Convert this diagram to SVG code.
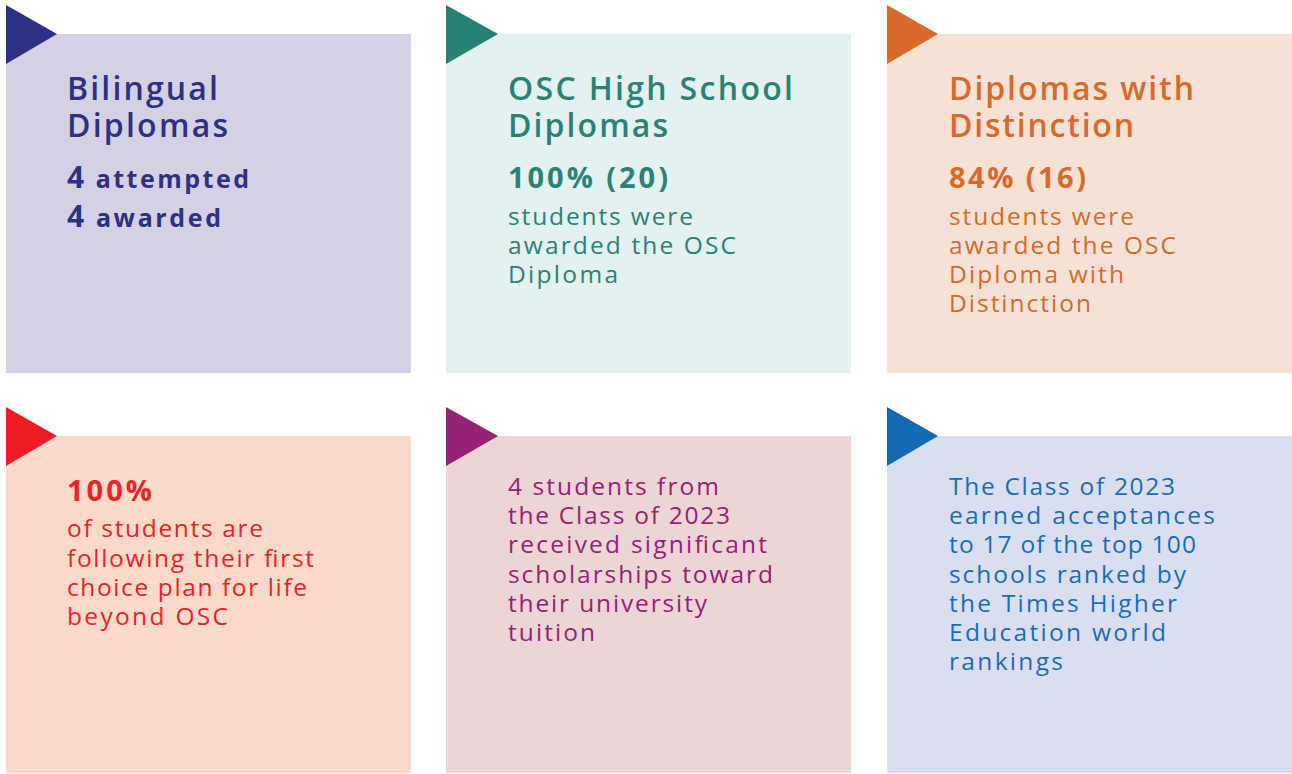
<svg xmlns="http://www.w3.org/2000/svg" width="1292" height="774" viewBox="0 0 1292 774">
<style>
text{font-family:"Open Sans","Noto Sans","Liberation Sans",sans-serif}
.t{font-size:32px;font-weight:600}
.n{font-size:29px;font-weight:700}
.b{font-size:24.5px;font-weight:400}
.s{font-size:25px;font-weight:700}
</style>
<rect width="1292" height="774" fill="#ffffff"/>
<g id="node-bilingual">
<rect x="6" y="34" width="405" height="339" fill="#d4d1e4"/>
<polygon points="6,5 57,34 6,64" fill="#2e3083"/>
<g fill="#2e3083">
<text class="t" x="67" y="100" textLength="151" lengthAdjust="spacing">Bilingual</text>
<text class="t" x="67" y="137" textLength="161" lengthAdjust="spacing">Diplomas</text>
<text class="s" x="67" y="188" textLength="182" lengthAdjust="spacing"><tspan font-size="30">4</tspan> attempted</text>
<text class="s" x="67" y="227" textLength="154" lengthAdjust="spacing"><tspan font-size="30">4</tspan> awarded</text>
</g>
</g>
<g id="node-osc">
<rect x="446" y="34" width="405" height="339" fill="#e3f1f0"/>
<polygon points="446,5 498,34 446,64" fill="#268073"/>
<g fill="#2a8275">
<text class="t" x="508" y="100" textLength="285" lengthAdjust="spacing">OSC High School</text>
<text class="t" x="508" y="137" textLength="160" lengthAdjust="spacing">Diplomas</text>
<text class="n" x="508" y="188" textLength="160" lengthAdjust="spacing">100% (20)</text>
<text class="b" x="508" y="225" textLength="185" lengthAdjust="spacing">students were</text>
<text class="b" x="508" y="254" textLength="228" lengthAdjust="spacing">awarded the OSC</text>
<text class="b" x="508" y="283" textLength="110" lengthAdjust="spacing">Diploma</text>
</g>
</g>
<g id="node-distinction">
<rect x="887" y="34" width="405" height="339" fill="#f6e2d5"/>
<polygon points="887,5 938,34 887,64" fill="#d8692b"/>
<g fill="#d66a2c">
<text class="t" x="949" y="100" textLength="245" lengthAdjust="spacing">Diplomas with</text>
<text class="t" x="949" y="137" textLength="185" lengthAdjust="spacing">Distinction</text>
<text class="n" x="949" y="188" textLength="137" lengthAdjust="spacing">84% (16)</text>
<text class="b" x="949" y="225" textLength="185" lengthAdjust="spacing">students were</text>
<text class="b" x="949" y="254" textLength="227" lengthAdjust="spacing">awarded the OSC</text>
<text class="b" x="949" y="283" textLength="175" lengthAdjust="spacing">Diploma with</text>
<text class="b" x="949" y="312" textLength="142" lengthAdjust="spacing">Distinction</text>
</g>
</g>
<g id="node-firstchoice">
<rect x="6" y="436" width="405" height="337" fill="#fcdacb"/>
<polygon points="6,407 57,436 6,466" fill="#ee1c25"/>
<g fill="#ea2229">
<text class="n" x="67" y="501" textLength="85" lengthAdjust="spacing">100%</text>
<text class="b" x="67" y="537" textLength="196" lengthAdjust="spacing">of students are</text>
<text class="b" x="67" y="567" textLength="247" lengthAdjust="spacing">following their first</text>
<text class="b" x="67" y="596" textLength="240" lengthAdjust="spacing">choice plan for life</text>
<text class="b" x="67" y="625" textLength="161" lengthAdjust="spacing">beyond OSC</text>
</g>
</g>
<g id="node-scholarships">
<rect x="446" y="436" width="405" height="337" fill="#edd5d6"/>
<polygon points="446,407 498,436 446,466" fill="#962175"/>
<g fill="#962175">
<text class="b" x="508" y="495" textLength="211" lengthAdjust="spacing">4 students from</text>
<text class="b" x="508" y="524" textLength="222" lengthAdjust="spacing">the Class of 2023</text>
<text class="b" x="508" y="553" textLength="259" lengthAdjust="spacing">received significant</text>
<text class="b" x="508" y="583" textLength="265" lengthAdjust="spacing">scholarships toward</text>
<text class="b" x="508" y="612" textLength="199" lengthAdjust="spacing">their university</text>
<text class="b" x="508" y="641" textLength="87" lengthAdjust="spacing">tuition</text>
</g>
</g>
<g id="node-rankings">
<rect x="887" y="436" width="405" height="337" fill="#d9dff1"/>
<polygon points="887,407 938,436 887,466" fill="#1369b3"/>
<g fill="#1a6cb3">
<text class="b" x="949" y="495" textLength="226" lengthAdjust="spacing">The Class of 2023</text>
<text class="b" x="949" y="524" textLength="266" lengthAdjust="spacing">earned acceptances</text>
<text class="b" x="949" y="553" textLength="247" lengthAdjust="spacing">to 17 of the top 100</text>
<text class="b" x="949" y="583" textLength="237" lengthAdjust="spacing">schools ranked by</text>
<text class="b" x="949" y="612" textLength="228" lengthAdjust="spacing">the Times Higher</text>
<text class="b" x="949" y="641" textLength="217" lengthAdjust="spacing">Education world</text>
<text class="b" x="949" y="670" textLength="114" lengthAdjust="spacing">rankings</text>
</g>
</g>
<g id="connectors"></g>
</svg>
